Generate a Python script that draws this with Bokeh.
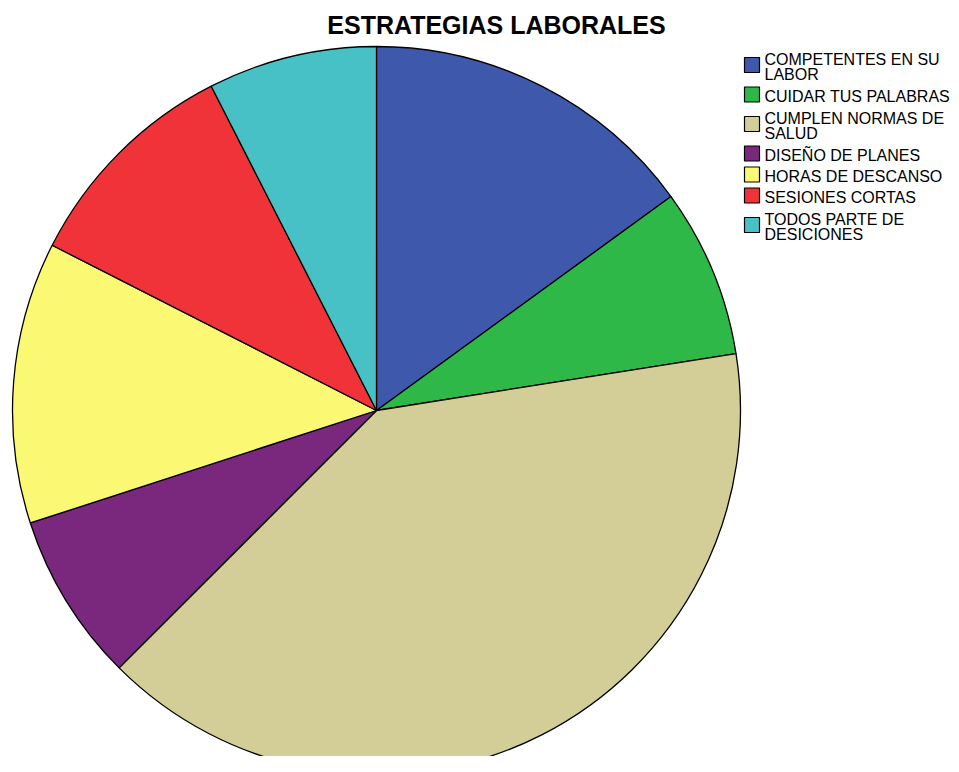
import math
from bokeh.plotting import figure
from bokeh.models import Range1d, ColumnDataSource
from bokeh.core.properties import value
from bokeh.embed import file_html
from bokeh.resources import INLINE

# ---- data ----
title_text = "ESTRATEGIAS LABORALES"
categories = [
    "COMPETENTES EN SU\nLABOR",
    "CUIDAR TUS PALABRAS",
    "CUMPLEN NORMAS DE\nSALUD",
    "DISEÑO DE PLANES",
    "HORAS DE DESCANSO",
    "SESIONES CORTAS",
    "TODOS PARTE DE\nDESICIONES",
]
counts = [6, 3, 16, 3, 5, 4, 3]
colors = ["#3E58AC", "#2EB848", "#D3CE97", "#7A287D", "#FBF873", "#EF3338", "#48C1C6"]

# ---- layout (image pixels -> data coords) ----
W, H = 951, 756
def Y(img_y):
    return H - img_y

p = figure(width=W, height=H, output_backend="svg", toolbar_location=None,
           x_range=Range1d(0, W), y_range=Range1d(0, H), min_border=0)
p.axis.visible = False
p.grid.visible = False
p.outline_line_color = None
p.background_fill_color = "white"
p.border_fill_color = "white"

# pie
cx, cy, r = 376, Y(410), 364
total = sum(counts)
starts, ends = [], []
cum = 0
for c in counts:
    starts.append(math.pi / 2 - 2 * math.pi * cum / total)
    cum += c
    ends.append(math.pi / 2 - 2 * math.pi * cum / total)
src = ColumnDataSource(dict(x=[cx] * len(counts), y=[cy] * len(counts),
                            start=starts, end=ends, color=colors))
p.wedge(x="x", y="y", radius=r, start_angle="start", end_angle="end",
        direction="clock", fill_color="color", line_color="black",
        line_width=1.3, source=src)

# title
p.text(x=[496], y=[Y(24)], text=[title_text], text_font=value("Liberation Sans"),
       text_font_style="bold", text_font_size="25px", text_align="center",
       text_baseline="alphabetic", text_color="black")

# legend
centers = []
c = 64.5
prev_h = None
for cat in categories:
    n = cat.count("\n") + 1
    h = 21 if n == 1 else 38
    if prev_h is not None:
        c += prev_h / 2 + h / 2
    centers.append(c)
    prev_h = h

p.rect(x=[751.5] * len(categories), y=[Y(v) for v in centers], width=15, height=15,
       fill_color=colors, line_color="black", line_width=1.2)

tx, ty, tt = [], [], []
for cat, cc in zip(categories, centers):
    lines = cat.split("\n")
    n = len(lines)
    for i, ln in enumerate(lines):
        tx.append(764)
        ty.append(Y(cc + 1.5 - 7.5 * (n - 1) + 15 * i))
        tt.append(ln)
p.text(x=tx, y=ty, text=tt, text_font=value("Liberation Sans"), text_font_size="16px",
       text_align="left", text_baseline="alphabetic", text_color="black")

open("out.html", "w").write(file_html(p, INLINE))
